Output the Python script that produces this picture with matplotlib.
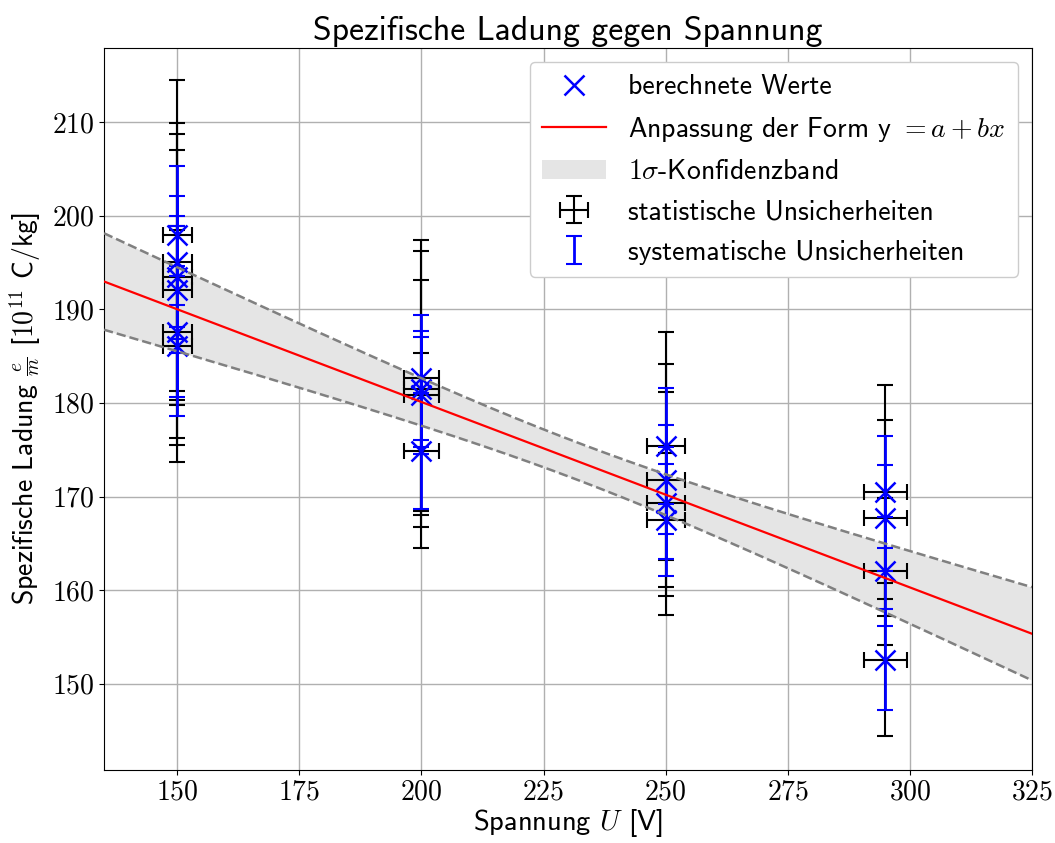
import numpy as np
import matplotlib
matplotlib.use("Agg")
import matplotlib.pyplot as plt
from matplotlib.ticker import FuncFormatter
from matplotlib.patches import Patch
from matplotlib.lines import Line2D

plt.rcParams["font.family"] = ["cmss10", "DejaVu Sans"]
plt.rcParams["mathtext.fontset"] = "cm"
plt.rcParams["axes.unicode_minus"] = False
plt.rcParams["axes.formatter.use_mathtext"] = True

U = [150, 150, 150, 150, 150, 150,
     200, 200, 200, 200,
     250, 250, 250, 250,
     295, 295, 295, 295]
U_err = [3.0, 3.0, 3.0, 3.0, 3.0, 3.0,
         3.6, 3.6, 3.6, 3.6,
         3.9, 3.9, 3.9, 3.9,
         4.4, 4.4, 4.4, 4.4]
em = [197.9, 195.1, 193.4, 192.1, 187.6, 186.1,
      182.7, 181.5, 180.8, 174.9,
      175.4, 171.8, 169.3, 167.5,
      170.5, 167.7, 162.0, 152.6]
em_stat = [16.6, 14.8, 13.6, 16.6, 11.3, 12.4,
           14.7, 14.7, 12.3, 10.4,
           12.2, 12.4, 11.9, 7.2,
           11.4, 10.5, 7.9, 8.2]
em_sys = [7.4, 7.0, 6.6, 6.8, 7.0, 7.5,
          6.7, 6.2, 6.2, 6.2,
          6.2, 5.8, 6.0, 6.0,
          6.0, 5.7, 5.8, 5.4]

# fit y = a + b x with parameter uncertainties
a, b = 219.7, -0.198
sa, sb, rho = 11.54, 0.049, -0.985

def fit(x):
    return a + b*x

def fit_err(x):
    return np.sqrt(sa**2 + (x*sb)**2 + 2*x*rho*sa*sb)

fig = plt.figure(figsize=(10.55, 8.43), dpi=100)
ax = fig.add_axes([0.0986, 0.0866, 0.8796, 0.8564])

h_stat = ax.errorbar(U, em, yerr=em_stat, xerr=U_err, fmt="none", ecolor="black",
                     elinewidth=1.5, capsize=6, capthick=1.5, zorder=2)
h_sys = ax.errorbar(U, em, yerr=em_sys, fmt="none", ecolor="blue",
                    elinewidth=2, capsize=6, capthick=1.5, zorder=2.5)
h_pts, = ax.plot(U, em, "x", color="blue", markersize=14, markeredgewidth=1.8, zorder=2.6)

xs = np.linspace(135, 325, 200)
ax.fill_between(xs, fit(xs) - fit_err(xs), fit(xs) + fit_err(xs),
                color="#e5e5e5", lw=0, zorder=1)
ax.plot(xs, fit(xs) + fit_err(xs), "--", color="gray", lw=1.8, zorder=3)
ax.plot(xs, fit(xs) - fit_err(xs), "--", color="gray", lw=1.8, zorder=3)
h_fit, = ax.plot(xs, fit(xs), color="red", lw=1.6, zorder=3)

ax.set_xlim(135, 325)
ax.set_ylim(140.8, 217.9)
ax.set_xticks(np.arange(150, 326, 25))
ax.set_yticks(np.arange(150, 211, 10))
fmt = FuncFormatter(lambda v, p: f"${v:.0f}$")
ax.xaxis.set_major_formatter(fmt)
ax.yaxis.set_major_formatter(fmt)
ax.tick_params(labelsize=20)
ax.grid(True, color="#b0b0b0", lw=1)
ax.set_axisbelow(True)

ax.set_xlabel(r"Spannung $U$ [V]", fontsize=20.5, labelpad=2)
ax.set_ylabel(r"Spezifische Ladung $\frac{e}{m}$ [$10^{11}$ C/kg]", fontsize=20, labelpad=6)
ax.set_title("Spezifische Ladung gegen Spannung", fontsize=24.3, pad=6)

h_band = Patch(facecolor="#e5e5e5", edgecolor="none")
ax.legend([h_pts, h_fit, h_band, h_stat, h_sys],
          ["berechnete Werte", r"Anpassung der Form y ${}= a + bx$", r"$1\sigma$-Konfidenzband",
           "statistische Unsicherheiten", "systematische Unsicherheiten"],
          loc="upper right", fontsize=20, framealpha=1, borderpad=0.45,
          labelspacing=0.55, handlelength=2.3)

plt.savefig("out.png", dpi=100)
